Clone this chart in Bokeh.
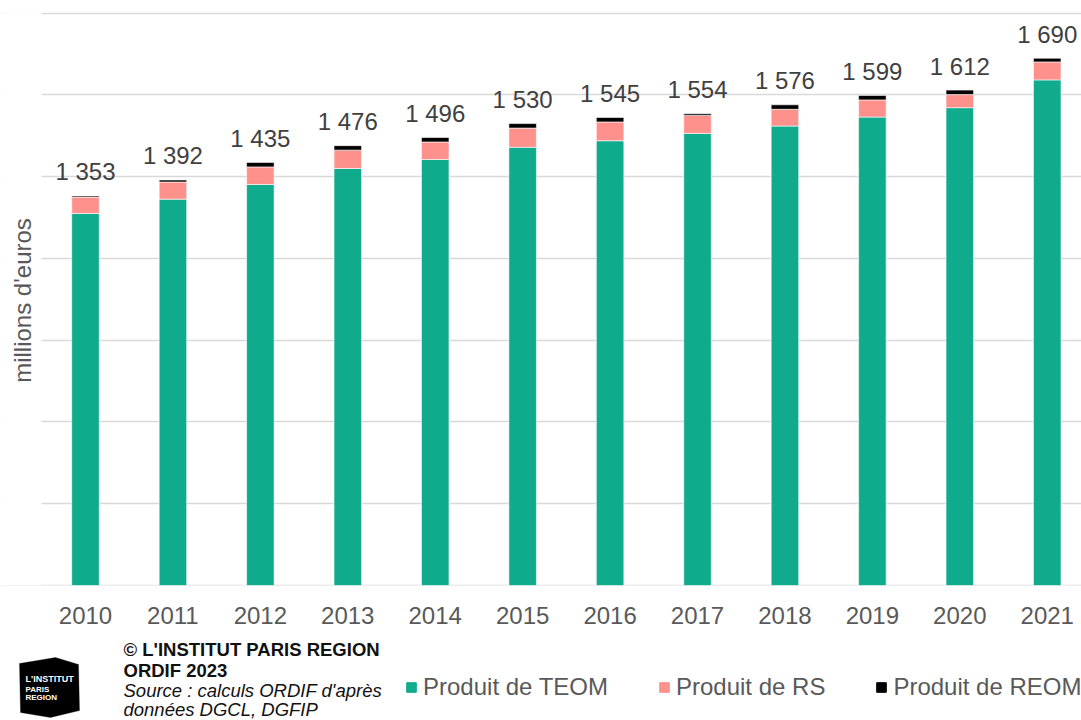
import math
from bokeh.plotting import figure
from bokeh.layouts import column
from bokeh.models import (Range1d, FixedTicker, ColumnDataSource, Legend, LegendItem, Label,
                          PolyAnnotation, BoxAnnotation)
from bokeh.core.properties import value
from bokeh.embed import file_html
from bokeh.resources import INLINE

# ---- data ----
years = [2010, 2011, 2012, 2013, 2014, 2015, 2016, 2017, 2018, 2019, 2020, 2021]
teom = [1310, 1345, 1381, 1420, 1442, 1472, 1488, 1506, 1524, 1546, 1569, 1637]
rs = [40, 42, 43, 45, 43, 47, 46, 44, 41, 42, 32, 44]
reom = [3, 5, 11, 11, 11, 11, 11, 4, 11, 11, 11, 9]
series_names = ["Produit de TEOM", "Produit de RS", "Produit de REOM"]
grid_values = [400, 600, 800, 1000, 1200, 1400, 1600, 1800]

totals = [a + b + c for a, b, c in zip(teom, rs, reom)]
total_labels = [f"{t:,}".replace(",", " ") for t in totals]

FONT = "Liberation Sans"
colors = ["#10AB8C", "#FF918D", "#000000"]
W = 1081
H_MAIN, H_FOOT = 640, 80
X0, X1 = 2009.0278, 2021.392      # x range over the full page width
PLOT_LEFT_PX = 41                 # where the plot area visibly starts

src = ColumnDataSource(dict(year=years, teom=teom, rs=rs, reom=reom,
                            total=totals, label=total_labels))

# ---------------- main chart ----------------
p = figure(output_backend="svg", toolbar_location=None, title=None,
           frame_width=W, frame_height=573,
           min_border_left=0, min_border_right=0, min_border_top=12,
           min_border_bottom=H_MAIN - 585,
           x_range=Range1d(X0, X1), y_range=Range1d(399, 1802))
p.outline_line_color = None
p.background_fill_color = "white"
p.border_fill_color = "white"

renderers = p.vbar_stack(["teom", "rs", "reom"], x="year", width=0.315, source=src,
                         color=colors, line_color="white", line_width=0.6)

p.text(x="year", y="total", text="label", source=src, text_align="center",
       text_baseline="alphabetic", y_offset=-24, text_font=value(FONT),
       text_font_size="24px", text_color="#404040")

p.xgrid.visible = False
p.ygrid.ticker = FixedTicker(ticks=grid_values)
p.ygrid.grid_line_color = "#d9d9d9"
p.ygrid.grid_line_width = 1.5

p.yaxis.visible = False

p.xaxis.ticker = FixedTicker(ticks=years)
p.xaxis.axis_line_color = None
p.xaxis.major_tick_line_color = None
p.xaxis.minor_tick_line_color = None
p.xaxis.major_label_standoff = 15
p.xaxis.major_label_text_font = FONT
p.xaxis.major_label_text_font_size = "24px"
p.xaxis.major_label_text_color = "#595959"

# blank margin left of the plot area (grid lines start at the plot area edge)
p.add_layout(BoxAnnotation(left=0, right=PLOT_LEFT_PX, left_units="screen", right_units="screen",
                           fill_color="white", fill_alpha=1, line_color=None))

# y-axis title (frame-relative screen units)
p.add_layout(Label(x=22, y=285, x_units="screen", y_units="screen", text="millions d'euros",
                   angle=math.pi / 2, text_align="center", text_baseline="middle",
                   text_font=FONT, text_font_size="24px", text_color="#595959"))

# ---------------- footer (logo, credits, legend) ----------------
f = figure(output_backend="svg", toolbar_location=None, title=None,
           frame_width=W, frame_height=H_FOOT, min_border=0,
           x_range=Range1d(0, W), y_range=Range1d(H_FOOT, 0))
f.outline_line_color = None
f.axis.visible = False
f.grid.visible = False
f.border_fill_color = "white"
f.background_fill_color = "white"

# logo
lx = [19, 55, 78, 79, 50, 20]
ly = [23, 17, 24, 70, 77, 72]
f.add_layout(PolyAnnotation(xs=lx, ys=ly, fill_color="black", fill_alpha=1, line_color="black"))
for txt, yy, fs in [("L'INSTITUT", 38, "9px"), ("PARIS", 49, "8px"), ("REGION", 57, "8px")]:
    f.add_layout(Label(x=25, y=yy, text=txt, text_font=FONT, text_font_size=fs,
                       text_font_style="bold", text_color="white", text_baseline="middle"))

footer = [("© L'INSTITUT PARIS REGION", 9, "bold"), ("ORDIF 2023", 30, "bold"),
          ("Source : calculs ORDIF d'après", 50, "italic"),
          ("données DGCL, DGFIP", 69, "italic")]
for txt, yy, style in footer:
    f.add_layout(Label(x=123, y=yy, text=txt, text_font=FONT, text_font_size="18.5px",
                       text_font_style=style, text_color="#111111", text_baseline="middle"))

# legend swatches: hidden copies of the series, used only for the legend glyphs
leg_src = ColumnDataSource(dict(year=years, teom=teom, rs=rs, reom=reom))
leg_r = f.vbar_stack(["teom", "rs", "reom"], x="year", width=0.315, source=leg_src,
                     color=colors)
for r in leg_r:
    r.visible = False
legend = Legend(items=[LegendItem(label=n, renderers=[r]) for n, r in zip(series_names, leg_r)],
                orientation="horizontal", location=(405, 19), padding=0, margin=0,
                spacing=50, glyph_width=12, glyph_height=12, label_standoff=6,
                label_text_font=FONT, label_text_font_size="24px", label_text_color="#595959",
                border_line_color=None, background_fill_alpha=0, inactive_fill_alpha=0)
f.add_layout(legend)

layout = column(p, f, spacing=0)
open("out.html", "w").write(file_html(layout, INLINE))
